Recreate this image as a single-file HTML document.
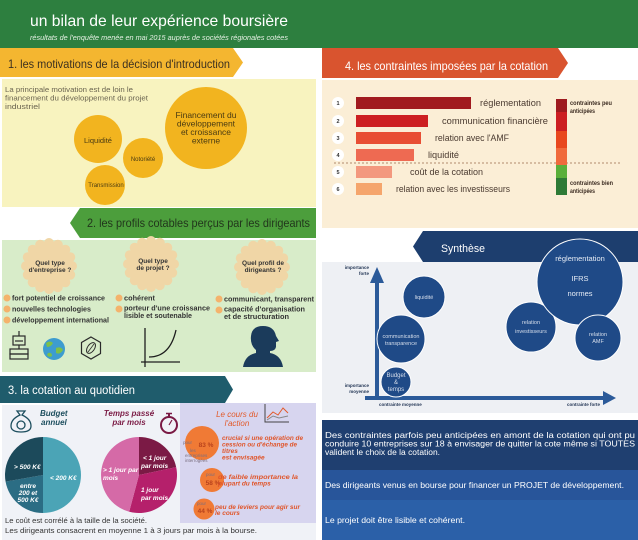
<!DOCTYPE html>
<html><head><meta charset="utf-8">
<style>
html,body{margin:0;padding:0;background:#fff;}
svg{display:block;font-family:"Liberation Sans",sans-serif;}
</style></head><body>
<svg width="638" height="540" viewBox="0 0 638 540" xmlns="http://www.w3.org/2000/svg">
<rect width="638" height="540" fill="#fff"/>

<!-- HEADER -->
<rect x="0" y="0" width="638" height="48" fill="#2d7f3f"/>
<text x="30" y="26" font-size="16" fill="#fff" textLength="258" lengthAdjust="spacingAndGlyphs">un bilan de leur expérience boursière</text>
<text x="30" y="40" font-size="7" font-style="italic" fill="#e6f0e4" textLength="258" lengthAdjust="spacingAndGlyphs">résultats de l'enquête menée en mai 2015 auprès de sociétés régionales cotées</text>

<!-- SECTION 1 -->
<polygon points="0,48 233,48 243,62.5 233,77 0,77" fill="#f4b630"/>
<text x="8" y="68" font-size="12" fill="#3b3020" textLength="222" lengthAdjust="spacingAndGlyphs">1. les motivations de la décision d'introduction</text>
<rect x="2" y="79" width="314" height="128" fill="#f8f3bf"/>
<g font-size="7.5" fill="#6a6450">
<text x="5" y="92" textLength="128" lengthAdjust="spacingAndGlyphs">La principale motivation est de loin le</text>
<text x="5" y="100.5" textLength="143" lengthAdjust="spacingAndGlyphs">financement du développement du projet</text>
<text x="5" y="109" textLength="35" lengthAdjust="spacingAndGlyphs">industriel</text>
</g>
<g fill="#f2b41f">
<circle cx="206" cy="128" r="41"/>
<circle cx="98" cy="139" r="24"/>
<circle cx="143" cy="158" r="20"/>
<circle cx="105" cy="185" r="20"/>
</g>
<g fill="#4a3b12" text-anchor="middle">
<text x="98" y="143" font-size="7.5">Liquidité</text>
<text x="143" y="161" font-size="6">Notoriété</text>
<text x="106" y="187" font-size="6">Transmission</text>
<g font-size="8.5">
<text x="206" y="118">Financement du</text>
<text x="206" y="126.5">développement</text>
<text x="206" y="135">et croissance</text>
<text x="206" y="143.5">externe</text>
</g>
</g>

<!-- SECTION 2 -->
<polygon points="80,208 316,208 316,238 80,238 70,223" fill="#4c9e3c"/>
<text x="87" y="227" font-size="12" fill="#22361c" textLength="223" lengthAdjust="spacingAndGlyphs">2. les profils cotables perçus par les dirigeants</text>
<rect x="2" y="240" width="314" height="132" fill="#d8ecc9"/>

<!-- badges -->
<g fill="#f0d6a6">
<g transform="translate(49,266)">
<circle r="23"/>
<circle cx="0" cy="-23" r="5"/><circle cx="8.8" cy="-21.2" r="5"/><circle cx="16.3" cy="-16.3" r="5"/><circle cx="21.2" cy="-8.8" r="5"/>
<circle cx="23" cy="0" r="5"/><circle cx="21.2" cy="8.8" r="5"/><circle cx="16.3" cy="16.3" r="5"/><circle cx="8.8" cy="21.2" r="5"/>
<circle cx="0" cy="23" r="5"/><circle cx="-8.8" cy="21.2" r="5"/><circle cx="-16.3" cy="16.3" r="5"/><circle cx="-21.2" cy="8.8" r="5"/>
<circle cx="-23" cy="0" r="5"/><circle cx="-21.2" cy="-8.8" r="5"/><circle cx="-16.3" cy="-16.3" r="5"/><circle cx="-8.8" cy="-21.2" r="5"/>
</g>
<g transform="translate(151,264)">
<circle r="23"/>
<circle cx="0" cy="-23" r="5"/><circle cx="8.8" cy="-21.2" r="5"/><circle cx="16.3" cy="-16.3" r="5"/><circle cx="21.2" cy="-8.8" r="5"/>
<circle cx="23" cy="0" r="5"/><circle cx="21.2" cy="8.8" r="5"/><circle cx="16.3" cy="16.3" r="5"/><circle cx="8.8" cy="21.2" r="5"/>
<circle cx="0" cy="23" r="5"/><circle cx="-8.8" cy="21.2" r="5"/><circle cx="-16.3" cy="16.3" r="5"/><circle cx="-21.2" cy="8.8" r="5"/>
<circle cx="-23" cy="0" r="5"/><circle cx="-21.2" cy="-8.8" r="5"/><circle cx="-16.3" cy="-16.3" r="5"/><circle cx="-8.8" cy="-21.2" r="5"/>
</g>
<g transform="translate(262,267)">
<circle r="23"/>
<circle cx="0" cy="-23" r="5"/><circle cx="8.8" cy="-21.2" r="5"/><circle cx="16.3" cy="-16.3" r="5"/><circle cx="21.2" cy="-8.8" r="5"/>
<circle cx="23" cy="0" r="5"/><circle cx="21.2" cy="8.8" r="5"/><circle cx="16.3" cy="16.3" r="5"/><circle cx="8.8" cy="21.2" r="5"/>
<circle cx="0" cy="23" r="5"/><circle cx="-8.8" cy="21.2" r="5"/><circle cx="-16.3" cy="16.3" r="5"/><circle cx="-21.2" cy="8.8" r="5"/>
<circle cx="-23" cy="0" r="5"/><circle cx="-21.2" cy="-8.8" r="5"/><circle cx="-16.3" cy="-16.3" r="5"/><circle cx="-8.8" cy="-21.2" r="5"/>
</g>
</g>
<g font-size="6.5" font-weight="bold" fill="#333" text-anchor="middle">
<text x="50" y="265">Quel type</text>
<text x="50" y="272">d'entreprise ?</text>
<text x="153" y="263">Quel type</text>
<text x="153" y="270">de projet ?</text>
<text x="263" y="265">Quel profil de</text>
<text x="263" y="272">dirigeants ?</text>
</g>
<!-- bullets -->
<g fill="#f4b36c">
<circle cx="7" cy="298" r="3.5"/><circle cx="7" cy="309" r="3.5"/><circle cx="7" cy="320" r="3.5"/>
<circle cx="119" cy="298" r="3.5"/><circle cx="119" cy="309" r="3.5"/>
<circle cx="219" cy="299" r="3.5"/><circle cx="219" cy="310" r="3.5"/>
</g>
<g font-size="7.5" font-weight="bold" fill="#333">
<text x="12" y="300.5" textLength="93" lengthAdjust="spacingAndGlyphs">fort potentiel de croissance</text>
<text x="12" y="311.5" textLength="79" lengthAdjust="spacingAndGlyphs">nouvelles technologies</text>
<text x="12" y="322.5" textLength="97" lengthAdjust="spacingAndGlyphs">développement international</text>
<text x="124" y="300.5" textLength="31" lengthAdjust="spacingAndGlyphs">cohérent</text>
<text x="124" y="310.5" textLength="86" lengthAdjust="spacingAndGlyphs">porteur d'une croissance</text>
<text x="124" y="318" textLength="68" lengthAdjust="spacingAndGlyphs">lisible et soutenable</text>
<text x="224" y="301.5" textLength="90" lengthAdjust="spacingAndGlyphs">communicant, transparent</text>
<text x="224" y="311.5" textLength="81" lengthAdjust="spacingAndGlyphs">capacité d'organisation</text>
<text x="224" y="319" textLength="65" lengthAdjust="spacingAndGlyphs">et de structuration</text>
</g>
<!-- icons row -->
<g stroke="#2a2a2a" stroke-width="1.2" fill="none">
<line x1="19" y1="331" x2="19" y2="336"/>
<rect x="13" y="336" width="12" height="9"/>
<line x1="15" y1="341" x2="23" y2="341"/>
<line x1="19" y1="345" x2="19" y2="349"/>
<rect x="10" y="349" width="18" height="5"/>
<rect x="10" y="354" width="18" height="5"/>
</g>
<circle cx="54" cy="349" r="11" fill="#3d9ccf"/>
<path d="M46,343 Q50,340 53,343 Q51,347 47,347 Z M56,348 Q61,346 63,350 Q60,355 56,353 Z M48,353 Q52,352 52,356 Q49,358 47,355 Z" fill="#7cc04a"/>
<polygon points="91,337 100.5,342.5 100.5,353.5 91,359 81.5,353.5 81.5,342.5" fill="none" stroke="#2a2a2a" stroke-width="1.2"/>
<ellipse cx="91" cy="348" rx="3.5" ry="6" transform="rotate(35 91 348)" fill="none" stroke="#2a2a2a" stroke-width="1"/>
<line x1="88" y1="352" x2="94" y2="344" stroke="#2a2a2a" stroke-width="0.8"/>
<g stroke="#1e1e1e" stroke-width="1.3" fill="none">
<line x1="145" y1="328" x2="145" y2="367"/>
<line x1="141" y1="362" x2="180" y2="362"/>
<path d="M149,357 Q170,357 176,330"/>
</g>
<path d="M243,367 Q245,355 256,353 L256,350 Q250,345 251,336 Q252,326 263,326 Q274,326 276,336 L279,341 L276,342 L276,347 Q275,351 270,351 L270,353 Q281,355 283,367 Z" fill="#1b3b5b"/>

<!-- SECTION 3 -->
<polygon points="0,376 225,376 233,389.5 225,403 0,403" fill="#1f5c6c"/>
<text x="8" y="394" font-size="11.5" fill="#fff" textLength="127" lengthAdjust="spacingAndGlyphs">3. la cotation au quotidien</text>
<rect x="2" y="405" width="314" height="135" fill="#f0f2f7"/>
<rect x="180" y="403" width="136" height="120" fill="#d7d5ef"/>

<!-- money bag -->
<g stroke="#1d4e5e" stroke-width="1.3" fill="none">
<path d="M17,411 L25,411 L22,415 Q31,419 31,426 Q31,432 21,432 Q11,432 11,426 Q11,419 20,415 Z"/>
<circle cx="21" cy="425" r="4"/>
</g>
<g font-size="8" font-weight="bold" font-style="italic" fill="#1d4e5e">
<text x="40" y="416">Budget</text>
<text x="41" y="425">annuel</text>
</g>
<g font-size="8" font-weight="bold" font-style="italic" fill="#7a1a44" text-anchor="middle">
<text x="129" y="416">Temps passé</text>
<text x="129" y="425">par mois</text>
</g>
<g stroke="#7a1a44" fill="none">
<circle cx="169" cy="425" r="8" stroke-width="2"/>
<line x1="169" y1="414" x2="169" y2="417" stroke-width="2"/>
<line x1="166" y1="413.5" x2="172" y2="413.5" stroke-width="1.5"/>
<line x1="169" y1="425" x2="172" y2="420" stroke-width="1.2"/>
</g>

<!-- budget pie -->
<path d="M43,475 L43,437 A38,38 0 0 1 43,513 Z" fill="#4ba4b6"/>
<path d="M43,475 L43,513 A38,38 0 0 1 5.58,481.6 Z" fill="#2b6d84"/>
<path d="M43,475 L5.58,481.6 A38,38 0 0 1 43,437 Z" fill="#1c4a5b"/>
<g font-size="6.5" font-weight="bold" font-style="italic" fill="#fff">
<text x="14" y="469">&gt; 500 K€</text>
<text x="50" y="480">&lt; 200 K€</text>
<text x="28" y="488" text-anchor="middle">entre</text>
<text x="28" y="495" text-anchor="middle">200 et</text>
<text x="28" y="502" text-anchor="middle">500 K€</text>
</g>
<!-- temps pie -->
<path d="M139,475 L139,437 A38,38 0 0 1 176.17,467.1 Z" fill="#7b1a45"/>
<path d="M139,475 L176.17,467.1 A38,38 0 0 1 129.17,511.7 Z" fill="#b5206b"/>
<path d="M139,475 L129.17,511.7 A38,38 0 0 1 139,437 Z" fill="#d56aa7"/>
<g font-size="6.5" font-weight="bold" font-style="italic" fill="#fff">
<text x="143" y="460">&lt; 1 jour</text>
<text x="141" y="468">par mois</text>
<text x="103" y="472">&gt; 1 jour par</text>
<text x="103" y="480">mois</text>
<text x="141" y="492">1 jour</text>
<text x="141" y="500">par mois</text>
</g>
<g font-size="7.5" fill="#333">
<text x="5" y="523" textLength="142" lengthAdjust="spacingAndGlyphs">Le coût est corrélé à la taille de la société.</text>
<text x="5" y="533" textLength="252" lengthAdjust="spacingAndGlyphs">Les dirigeants consacrent en moyenne 1 à 3 jours par mois à la bourse.</text>
</g>

<!-- cours de l'action -->
<g font-size="8" font-style="italic" fill="#e25a2a" text-anchor="middle">
<text x="237" y="417">Le cours du</text>
<text x="237" y="426">l'action</text>
</g>
<g fill="none" stroke-width="1">
<path d="M265,404 L265,422 L289,422" stroke="#444"/>
<path d="M267,418 L273,412 L278,415 L283,408 L288,413" stroke="#e25a2a"/>
<path d="M267,420 L273,416 L279,418 L288,416" stroke="#888"/>
</g>
<g fill="#f07a35">
<circle cx="202" cy="443" r="17"/>
<circle cx="212" cy="480" r="12"/>
<circle cx="204" cy="509" r="10.5"/>
</g>
<g font-size="4.5" fill="#7a6f80">
<text x="183" y="444">pour</text>
<text x="190" y="452">les</text>
<text x="185" y="457">entreprises</text>
<text x="185" y="462">interrogées</text>
<text x="206" y="476">pour</text>
<text x="197" y="505">pour</text>
</g>
<g font-size="6.5" font-weight="bold" fill="#b8421c" text-anchor="middle">
<text x="206" y="447">83 %</text>
<text x="213" y="485">58 %</text>
<text x="205" y="513">44 %</text>
</g>
<g font-size="6.5" font-weight="bold" font-style="italic" fill="#e0552a">
<text x="222" y="440" textLength="81" lengthAdjust="spacingAndGlyphs">crucial si une opération de</text>
<text x="222" y="446.5" textLength="75" lengthAdjust="spacingAndGlyphs">cession ou d'échange de</text>
<text x="222" y="453">titres</text>
<text x="222" y="459.5">est envisagée</text>
<text x="218" y="479" textLength="80" lengthAdjust="spacingAndGlyphs">de faible importance la</text>
<text x="218" y="485.5">plupart du temps</text>
<text x="215" y="509" textLength="85" lengthAdjust="spacingAndGlyphs">peu de leviers pour agir sur</text>
<text x="215" y="515">le cours</text>
</g>

<!-- SECTION 4 -->
<polygon points="322,48 558,48 568,63 558,78 322,78" fill="#d9542f"/>
<text x="345" y="70" font-size="12" fill="#fff" textLength="203" lengthAdjust="spacingAndGlyphs">4. les contraintes imposées par la cotation</text>
<rect x="322" y="80" width="316" height="148" fill="#fbeed6"/>
<g fill="#fff">
<circle cx="338" cy="103" r="6"/><circle cx="338" cy="121" r="6"/><circle cx="338" cy="138" r="6"/>
<circle cx="338" cy="155" r="6"/><circle cx="338" cy="172" r="6"/><circle cx="338" cy="189" r="6"/>
</g>
<g font-size="5.5" font-weight="bold" fill="#333" text-anchor="middle">
<text x="338" y="105">1</text><text x="338" y="123">2</text><text x="338" y="140">3</text>
<text x="338" y="157">4</text><text x="338" y="174">5</text><text x="338" y="191">6</text>
</g>
<rect x="356" y="97" width="115" height="12" fill="#a11a1f"/>
<rect x="356" y="115" width="72" height="12" fill="#cd1f22"/>
<rect x="356" y="132" width="65" height="12" fill="#e84e33"/>
<rect x="356" y="149" width="58" height="12" fill="#ee6a52"/>
<rect x="356" y="166" width="36" height="12" fill="#f3987e"/>
<rect x="356" y="183" width="26" height="12" fill="#f5a56c"/>
<g font-size="9" fill="#4a3a30">
<text x="480" y="106" textLength="61" lengthAdjust="spacingAndGlyphs">réglementation</text>
<text x="442" y="124" textLength="106" lengthAdjust="spacingAndGlyphs">communication financière</text>
<text x="435" y="141" textLength="74" lengthAdjust="spacingAndGlyphs">relation avec l'AMF</text>
<text x="428" y="158" textLength="31" lengthAdjust="spacingAndGlyphs">liquidité</text>
<text x="410" y="175" textLength="73" lengthAdjust="spacingAndGlyphs">coût de la cotation</text>
<text x="396" y="192" textLength="114" lengthAdjust="spacingAndGlyphs">relation avec les investisseurs</text>
</g>
<line x1="334" y1="163" x2="620" y2="163" stroke="#9a6a4a" stroke-width="0.8" stroke-dasharray="2,2"/>
<rect x="556" y="99" width="11" height="13" fill="#9e1a1f"/>
<rect x="556" y="112" width="11" height="19" fill="#cc1e22"/>
<rect x="556" y="131" width="11" height="17" fill="#e8471e"/>
<rect x="556" y="148" width="11" height="17" fill="#f06a3c"/>
<rect x="556" y="165" width="11" height="13" fill="#5aaf3a"/>
<rect x="556" y="178" width="11" height="17" fill="#2e7a36"/>
<g font-size="6" font-weight="bold" fill="#3a2a20">
<text x="570" y="105" textLength="42" lengthAdjust="spacingAndGlyphs">contraintes peu</text>
<text x="570" y="113" textLength="25" lengthAdjust="spacingAndGlyphs">anticipées</text>
<text x="570" y="185" textLength="43" lengthAdjust="spacingAndGlyphs">contraintes bien</text>
<text x="570" y="193" textLength="25" lengthAdjust="spacingAndGlyphs">anticipées</text>
</g>

<!-- SYNTHESE -->
<polygon points="413,246.5 423,231 638,231 638,262 423,262" fill="#1d3e6e"/>
<text x="441" y="252" font-size="11" fill="#fff" textLength="44" lengthAdjust="spacingAndGlyphs">Synthèse</text>
<rect x="322" y="262" width="316" height="151" fill="#eef0f4"/>
<!-- axes -->
<g fill="#2b5a99">
<rect x="375" y="281" width="4" height="119"/>
<polygon points="370,283 377,267 384,283"/>
<rect x="365" y="396" width="240" height="4"/>
<polygon points="603,391 616,398 603,405"/>
</g>
<g font-size="4.5" font-weight="bold" fill="#1d3050" text-anchor="end">
<text x="369" y="269">importance</text>
<text x="369" y="275">forte</text>
<text x="369" y="387">importance</text>
<text x="369" y="393">moyenne</text>
</g>
<g font-size="4.5" font-weight="bold" fill="#1d3050">
<text x="379" y="406">contrainte moyenne</text>
<text x="600" y="406" text-anchor="end">contrainte forte</text>
</g>
<g fill="#1f4a87" stroke="#fff" stroke-width="1">
<circle cx="424" cy="297" r="21"/>
<circle cx="401" cy="339" r="24"/>
<circle cx="396" cy="382" r="15"/>
<circle cx="531" cy="327" r="25"/>
<circle cx="580" cy="282" r="43"/>
<circle cx="598" cy="338" r="23"/>
</g>
<g font-size="5.5" fill="#d6deeb" text-anchor="middle">
<text x="424" y="299">liquidité</text>
<text x="401" y="338">communication</text>
<text x="401" y="345">transparence</text>
<text x="396" y="377" font-size="6">Budget</text>
<text x="396" y="384" font-size="6">&amp;</text>
<text x="396" y="391" font-size="6">temps</text>
<text x="531" y="324">relation</text>
<text x="531" y="333">investisseurs</text>
<text x="598" y="336">relation</text>
<text x="598" y="343">AMF</text>
</g>
<g font-size="7.5" fill="#e6ecf5" text-anchor="middle">
<text x="580" y="261">réglementation</text>
<text x="580" y="281">IFRS</text>
<text x="580" y="296">normes</text>
</g>

<!-- BOTTOM RIGHT -->
<rect x="322" y="420" width="316" height="50" fill="#1f3f70"/>
<rect x="322" y="470" width="316" height="30" fill="#28559a"/>
<rect x="322" y="500" width="316" height="40" fill="#2b60a8"/>
<g font-size="8" fill="#fff">
<text x="325" y="438" textLength="310" lengthAdjust="spacingAndGlyphs">Des contraintes parfois peu anticipées en amont de la cotation qui ont pu</text>
<text x="325" y="446.5" textLength="310" lengthAdjust="spacingAndGlyphs">conduire 10 entreprises sur 18 à envisager de quitter la cote même si TOUTES</text>
<text x="325" y="455" textLength="115" lengthAdjust="spacingAndGlyphs">valident le choix de la cotation.</text>
<text x="325" y="488" textLength="299" lengthAdjust="spacingAndGlyphs">Des dirigeants venus en bourse pour financer un PROJET de développement.</text>
<text x="325" y="523" textLength="140" lengthAdjust="spacingAndGlyphs">Le projet doit être lisible et cohérent.</text>
</g>
</svg>
</body></html>
